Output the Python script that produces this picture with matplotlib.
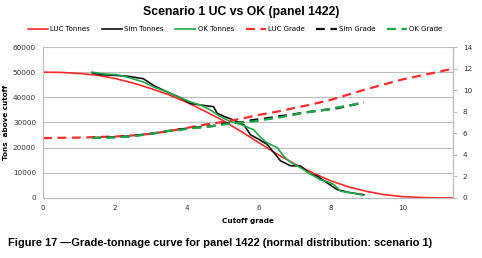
import matplotlib
matplotlib.use("Agg")
import matplotlib.pyplot as plt

# LUC curves
luc_x = [0, 0.5, 1.0, 1.5, 2.0, 2.5, 3.0, 3.5, 4.0, 4.5, 5.0, 5.5, 6.0, 6.5, 7.0,
         7.5, 8.0, 8.5, 9.0, 9.5, 10.0, 10.5, 11.0, 11.4]
luc_tonnes = [50000, 49900, 49500, 48800, 47500, 45700, 43500, 41000, 38000, 34500,
              30800, 26500, 22000, 17500, 13500, 10000, 6800, 4400, 2600, 1300,
              550, 200, 50, 0]
luc_grade = [5.55, 5.58, 5.6, 5.65, 5.7, 5.8, 5.95, 6.2, 6.5, 6.8, 7.05, 7.35, 7.7,
             8.0, 8.35, 8.7, 9.1, 9.6, 10.1, 10.55, 11.0, 11.35, 11.7, 12.0]

# Simulation curves
sim_x = [1.36, 1.6, 2.05, 2.4, 2.79, 3.1, 3.44, 3.8, 4.09, 4.4, 4.74, 4.84, 5.05, 5.3,
         5.58, 5.77, 6.0, 6.23, 6.45, 6.6, 6.88, 7.16, 7.44, 7.62, 7.9, 8.18, 8.5, 8.92]
sim_tonnes = [49800, 49000, 48700, 48300, 47400, 44500, 42200, 40000, 37600, 36900,
              36300, 33700, 32300, 31000, 29100, 25100, 23300, 21300, 17500, 14800,
              12800, 12700, 9500, 8700, 6000, 3300, 2200, 1300]
sim_grade = [5.57, 5.6, 5.65, 5.72, 5.88, 6.0, 6.2, 6.35, 6.48, 6.58, 6.68, 6.8, 6.9,
             6.98, 7.05, 7.2, 7.3, 7.4, 7.5, 7.6, 7.7, 7.87, 8.0, 8.08, 8.2, 8.33,
             8.55, 8.87]

# Ordinary kriging curves
ok_x = [1.36, 1.7, 2.05, 2.4, 2.79, 3.1, 3.44, 3.8, 4.09, 4.4, 4.65, 4.9, 5.2, 5.5,
        5.86, 6.05, 6.23, 6.51, 6.7, 6.88, 7.16, 7.44, 7.7, 7.9, 8.09, 8.27, 8.6, 8.9]
ok_tonnes = [50000, 49300, 49000, 47800, 46100, 44000, 42200, 40000, 38200, 36800,
             35000, 32600, 30400, 29200, 27100, 24000, 21900, 20000, 16500, 14200,
             12000, 9500, 7300, 6500, 5300, 2700, 2000, 1100]
ok_grade = [5.55, 5.6, 5.62, 5.7, 5.85, 6.0, 6.2, 6.3, 6.45, 6.55, 6.63, 6.75, 6.9,
            7.0, 7.1, 7.2, 7.3, 7.42, 7.55, 7.65, 7.85, 8.0, 8.1, 8.2, 8.33, 8.45,
            8.62, 8.85]

red = '#ff2a2a'
black = '#111111'
green = '#1fa84a'

fig = plt.figure(figsize=(4.82, 2.58), dpi=100)
ax = fig.add_axes([0.0892, 0.2326, 0.8508, 0.5852])
ax2 = ax.twinx()

l1, = ax.plot(luc_x, luc_tonnes, color=red, lw=1.2, label='LUC Tonnes', zorder=3)
l2, = ax.plot(sim_x, sim_tonnes, color=black, lw=1.2, label='Sim Tonnes', zorder=3)
l3, = ax.plot(ok_x, ok_tonnes, color=green, lw=1.2, label='OK Tonnes', zorder=4)
dash = (0, (4, 2.5))
l4, = ax2.plot(luc_x, luc_grade, color=red, lw=1.6, ls=dash, label='LUC Grade')
l5, = ax2.plot(sim_x, sim_grade, color=black, lw=1.6, ls=dash, label='Sim Grade')
l6, = ax2.plot(ok_x, ok_grade, color=green, lw=1.6, ls=dash, label='OK Grade')

ax.set_xlim(0, 11.4)
ax.set_ylim(0, 60000)
ax2.set_ylim(0, 14)
ax.set_xticks([0, 2, 4, 6, 8, 10])
ax.set_yticks(range(0, 60001, 10000))
ax2.set_yticks(range(0, 15, 2))
ax.grid(axis='y', color='#bdbdbd', lw=0.8)
ax.set_axisbelow(True)

for a in (ax, ax2):
    for s in a.spines.values():
        s.set_color('#bdbdbd')
        s.set_linewidth(0.8)
    a.spines['top'].set_visible(False)
    a.tick_params(labelsize=5.2, colors='#333333', length=0, pad=5)
ax2.tick_params(axis='y', length=3, color='#bdbdbd', direction='out', pad=4)

ax.set_xlabel('Cutoff grade', fontsize=5.2, fontweight='bold', labelpad=5)
ax.set_ylabel('Tons  above cutoff', fontsize=5.2, fontweight='bold', labelpad=3)

fig.text(0.5, 0.955, 'Scenario 1 UC vs OK (panel 1422)', ha='center', va='center',
         fontsize=8.8, fontweight='bold', family='Liberation Sans')
fig.legend(handles=[l1, l2, l3, l4, l5, l6], loc='center', bbox_to_anchor=(0.488, 0.887),
           ncol=6, frameon=False, fontsize=5, handlelength=2.9, columnspacing=1.7,
           handletextpad=0.3)
fig.text(0.017, 0.058,
         'Figure 17 \u2014Grade-tonnage curve for panel 1422 (normal distribution: scenario 1)',
         ha='left', va='center', fontsize=7.9, fontweight='bold', family='Liberation Sans')

fig.savefig('out.png', dpi=100)
